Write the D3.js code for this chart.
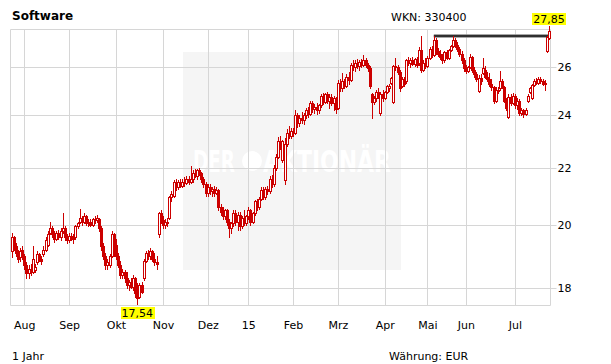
<!DOCTYPE html>
<html><head><meta charset="utf-8">
<script src="https://cdn.jsdelivr.net/npm/d3@7"></script>
<style>body{margin:0;background:#fff}svg{display:block}text{font-family:"DejaVu Sans",Verdana,sans-serif}</style>
</head><body><svg id="c" width="611" height="364"></svg>
<script>
const open=[19.15,19.6,19.3,19.1,18.95,19.2,19.0,18.7,18.45,18.6,18.5,18.55,18.8,19.05,18.9,19.05,19.2,19.35,19.75,19.9,19.7,19.55,19.75,19.6,19.8,19.9,19.6,19.5,19.65,19.6,19.6,19.95,20.1,20.25,20.1,20.3,20.05,20.1,20.0,20.2,20.15,20.2,19.9,19.3,19.0,18.7,18.7,19.0,19.7,19.35,19.0,18.7,18.4,18.5,18.3,18.1,18.2,18.05,18.3,17.85,17.75,18.1,18.3,18.85,19.1,19.0,19.15,18.9,18.8,19.7,20.4,20.15,20.0,20.1,20.25,20.95,21.0,21.5,21.3,21.5,21.35,21.5,21.45,21.6,21.5,21.6,21.8,21.7,21.9,21.8,21.6,21.4,21.1,21.3,21.15,21.25,21.1,21.2,20.6,20.45,20.3,20.5,20.1,19.9,20.05,20.4,20.1,20.35,19.95,20.25,20.05,20.3,20.5,20.1,20.4,20.8,20.6,20.9,21.2,20.95,21.25,21.15,21.6,21.4,22.0,22.4,23.0,22.3,21.55,22.9,23.3,23.2,23.4,23.3,24.0,23.7,23.9,23.8,24.0,24.2,24.05,24.5,24.25,24.35,24.2,24.4,24.8,24.55,24.85,24.6,24.75,24.5,24.7,24.3,25.35,25.1,25.4,25.2,25.6,25.45,26.1,26.0,26.2,26.05,26.25,26.1,26.3,26.1,25.95,24.85,24.55,24.7,24.95,24.1,24.85,24.7,24.95,25.1,25.35,24.55,26.05,26.0,25.8,25.2,25.5,25.4,26.3,26.2,26.3,26.15,26.35,26.2,26.75,25.9,26.2,26.05,26.4,26.8,26.55,27.2,26.7,26.6,26.45,26.3,26.65,26.4,26.75,26.95,27.2,27.0,26.8,26.6,26.3,25.95,25.85,26.0,26.45,25.9,25.7,25.0,25.55,25.75,25.9,25.6,25.5,25.3,25.15,24.6,25.05,25.1,25.4,25.15,24.6,23.95,24.75,24.5,24.8,24.4,24.6,24.1,24.2,24.05,24.6,24.95,24.7,25.25,25.4,25.35,25.5,25.4,25.3,26.7,27.3];
const high=[19.75,19.65,19.4,19.2,19.25,19.3,19.05,18.8,18.7,18.75,19.3,18.75,19.15,19.1,19.0,19.3,19.6,19.8,20.1,19.95,19.8,19.8,19.85,19.9,20.4,19.95,19.7,19.75,19.75,19.7,20.0,20.1,20.55,20.3,20.4,20.35,20.2,20.2,20.25,20.3,20.35,20.25,19.95,19.4,19.1,18.9,19.05,19.8,19.75,19.55,19.1,18.85,18.6,18.55,18.5,18.25,18.3,18.4,18.35,18.15,18.15,18.2,18.9,19.15,19.2,19.25,19.2,19.1,19.0,20.45,20.5,20.3,20.2,20.25,21.0,21.15,21.55,21.6,21.55,21.6,21.6,21.65,21.7,21.7,22.05,21.9,21.95,21.95,22.0,21.85,21.65,21.5,21.4,21.4,21.3,21.35,21.3,21.25,20.7,20.6,20.55,20.55,20.2,20.1,20.5,20.5,20.45,20.45,20.3,20.5,20.35,20.6,20.55,20.45,20.85,20.9,20.95,21.3,21.3,21.3,21.35,21.7,21.75,22.1,22.5,23.15,23.2,23.05,23.1,23.45,23.6,23.5,23.5,24.2,24.1,24.0,24.15,24.1,24.3,24.35,24.6,24.6,24.45,24.5,24.45,24.85,24.9,24.9,24.95,24.85,24.85,24.8,24.75,25.45,25.5,25.75,25.5,25.7,25.8,26.2,26.3,26.3,26.35,26.3,26.35,26.55,26.4,26.2,26.05,24.9,24.8,25.05,25.1,24.95,25.05,25.0,25.25,25.3,25.6,26.1,26.4,26.1,25.9,25.6,25.6,26.35,26.45,26.4,26.45,26.4,26.45,26.9,27.4,26.3,26.4,26.5,26.9,26.95,27.4,27.3,26.85,26.75,26.6,26.7,26.75,26.8,27.0,27.4,27.3,27.1,26.9,26.7,26.4,26.1,26.05,26.6,26.5,26.0,25.8,25.65,25.7,26.4,26.05,25.8,25.75,25.5,25.2,25.15,25.15,25.85,25.5,25.2,24.7,24.85,24.85,24.9,24.85,24.7,24.65,24.3,24.25,24.3,24.85,25.15,25.3,25.5,25.55,25.6,25.6,25.5,25.45,27.4,27.85];
const low=[18.95,19.2,19.0,18.8,18.85,18.9,18.6,18.3,18.3,18.4,18.45,18.5,18.75,18.85,18.75,19.0,19.15,19.3,19.7,19.6,19.45,19.5,19.55,19.5,19.75,19.5,19.4,19.45,19.5,19.4,19.55,19.9,20.05,20.0,20.05,20.0,19.95,19.95,19.95,20.05,20.1,19.8,19.2,18.9,18.6,18.6,18.65,18.95,19.0,18.9,18.65,18.3,18.3,18.2,18.0,17.95,18.0,17.95,17.75,17.54,17.7,17.85,18.25,18.8,18.9,18.9,18.85,18.7,18.6,19.6,20.05,19.9,19.9,19.95,20.2,20.8,20.95,21.2,21.25,21.3,21.3,21.35,21.4,21.4,21.45,21.5,21.65,21.6,21.75,21.5,21.3,21.0,21.0,21.05,21.0,21.0,21.05,20.5,20.35,20.2,20.2,20.0,19.6,19.75,19.95,20.0,19.85,19.85,19.9,20.0,20.0,20.2,20.0,20.05,20.35,20.5,20.55,20.85,20.9,20.9,21.05,21.1,21.3,21.35,21.9,22.35,22.7,22.2,21.4,22.8,23.1,23.1,23.2,23.25,23.55,23.6,23.7,23.65,23.9,23.95,24.0,24.15,24.1,24.05,24.1,24.35,24.45,24.5,24.5,24.3,24.4,24.2,24.1,24.25,25.0,25.0,25.1,25.15,25.3,25.4,25.9,25.85,25.95,25.9,26.0,26.05,26.0,25.85,25.1,23.9,24.45,24.6,24.7,24.0,24.6,24.65,24.9,25.0,25.3,24.5,25.9,25.7,25.0,25.15,25.2,25.35,26.1,26.0,26.1,26.05,26.0,26.1,25.8,25.85,25.95,26.0,26.35,26.45,26.5,26.6,26.5,26.35,26.2,26.25,26.35,26.35,26.7,26.9,26.9,26.7,26.5,26.2,25.85,25.75,25.8,25.95,25.8,25.6,25.4,24.95,25.3,25.7,25.55,25.4,25.2,25.05,24.5,24.55,24.9,25.05,25.1,24.55,24.2,23.9,24.4,24.45,24.3,24.25,24.0,24.0,23.95,24.0,24.55,24.9,24.65,25.2,25.3,25.3,25.35,25.25,25.05,26.65,27.25];
const close=[19.6,19.3,19.1,18.9,19.15,19.0,18.7,18.45,18.6,18.5,18.9,18.65,19.05,18.9,18.85,19.2,19.5,19.7,19.9,19.7,19.55,19.75,19.6,19.8,19.9,19.6,19.5,19.65,19.6,19.55,19.95,20.05,20.25,20.1,20.3,20.05,20.1,20.0,20.2,20.15,20.25,19.9,19.3,19.0,18.7,18.8,19.0,19.7,19.1,19.0,18.7,18.4,18.5,18.3,18.1,18.2,18.05,18.3,17.85,17.7,18.1,17.9,18.85,19.1,19.0,19.15,18.9,18.8,18.75,20.4,20.15,20.0,20.1,20.05,20.95,21.05,21.5,21.3,21.5,21.35,21.5,21.45,21.6,21.5,21.6,21.8,21.7,21.9,21.8,21.6,21.4,21.1,21.3,21.15,21.25,21.1,21.2,20.6,20.45,20.3,20.5,20.1,19.9,20.05,20.4,20.1,20.35,19.95,20.25,20.05,20.3,20.5,20.1,20.4,20.8,20.6,20.9,21.2,21.0,21.25,21.15,21.6,21.4,22.0,22.4,23.0,22.8,23.0,22.9,23.3,23.2,23.4,23.3,24.0,23.7,23.9,23.8,24.0,24.2,24.05,24.5,24.25,24.35,24.2,24.4,24.8,24.55,24.85,24.6,24.75,24.5,24.7,24.25,25.35,25.1,25.4,25.2,25.6,25.45,26.1,26.0,26.2,26.05,26.25,26.1,26.3,26.1,25.95,25.2,24.55,24.7,24.95,24.8,24.85,24.7,24.95,25.2,25.2,25.55,26.05,26.0,25.8,25.1,25.5,25.3,26.3,26.2,26.3,26.15,26.35,26.1,26.75,25.9,26.2,26.05,26.4,26.8,26.55,27.2,26.7,26.6,26.45,26.3,26.65,26.4,26.75,26.95,27.2,27.0,26.8,26.6,26.3,25.95,25.85,26.0,26.45,25.9,25.7,25.5,25.55,25.4,25.95,25.6,25.5,25.3,25.15,24.6,25.05,25.0,25.4,25.15,24.6,24.3,24.75,24.5,24.8,24.4,24.6,24.1,24.2,24.05,24.2,24.8,25.1,25.25,25.4,25.35,25.5,25.4,25.3,25.35,27.35,27.6];
const monthIdx=[6,27,49,71,92,111,132,153,175,195,213,236];
const monthLabels=["Aug","Sep","Okt","Nov","Dez","15","Feb","Mrz","Apr","Mai","Jun","Jul"];
const yTicks=[18,20,22,24,26];
const refLevel=27.4, refStartIdx=198;

const W=611,H=364, L=10.5, R=550.5, T=29.5, B=305.5;
const red="#cc0000", grid="#d6d6d6";
const svg=d3.select("#c");
const x=d3.scaleLinear().domain([0,open.length-1]).range([11.5,549]);
const y=d3.scaleLog().domain([18,26]).range([288.3,67.3]);
const px=v=>Math.round(v)+0.5;

// watermark
svg.append("rect").attr("x",183).attr("y",52).attr("width",218).attr("height",218).attr("fill","#f5f5f5");
const wm=svg.append("g").attr("fill","#ffffff").attr("font-weight","bold").attr("font-size",30);
wm.append("text").attr("x",193).attr("y",172).attr("textLength",42).attr("lengthAdjust","spacingAndGlyphs").text("DER");
wm.append("circle").attr("cx",252).attr("cy",161).attr("r",10).attr("fill","#ffffff");
wm.append("text").attr("x",263).attr("y",172).attr("textLength",128).attr("lengthAdjust","spacingAndGlyphs").text("AKTIONÄR");

// grid
const g=svg.append("g");
g.selectAll(".vg").data(monthIdx).join("line").attr("x1",d=>px(x(d))).attr("x2",d=>px(x(d))).attr("y1",T).attr("y2",B).attr("stroke",grid);
g.selectAll(".hg").data(yTicks).join("line").attr("x1",L).attr("x2",R).attr("y1",d=>px(y(d))).attr("y2",d=>px(y(d))).attr("stroke",grid);
// frame
g.append("path").attr("d",`M${L},${T}H${R}V${B}H${L}Z`).attr("fill","none").attr("stroke",grid);

// y axis
const ya=svg.append("g").attr("transform",`translate(${R},0)`).call(d3.axisRight(y).tickValues(yTicks).tickSize(6).tickPadding(1).tickFormat(d3.format("d")));
ya.select(".domain").remove();
ya.selectAll(".tick line").attr("stroke",grid).attr("transform","translate(0,0.5)").attr("y1",0);
ya.selectAll(".tick").attr("transform",d=>`translate(0,${Math.round(y(d))})`);
ya.selectAll("text").attr("font-size",11).attr("fill","#000").attr("font-family","DejaVu Sans").attr("dy","0.85em").attr("y",-5);

// x axis
const xa=svg.append("g").attr("transform",`translate(0,${B})`).call(d3.axisBottom(x).tickValues(monthIdx).tickSize(0).tickPadding(16).tickFormat((d,i)=>monthLabels[i]));
xa.select(".domain").remove();
xa.selectAll("text").attr("font-size",11).attr("fill","#000").attr("font-family","DejaVu Sans");

// reference line
svg.append("line").attr("x1",x(refStartIdx)).attr("x2",R).attr("y1",Math.round(y(refLevel))).attr("y2",Math.round(y(refLevel))).attr("stroke","#8a8a8a").attr("stroke-width",3.5);
svg.append("line").attr("x1",x(refStartIdx)).attr("x2",R).attr("y1",Math.round(y(refLevel))).attr("y2",Math.round(y(refLevel))).attr("stroke","#111").attr("stroke-width",1.6);

// candles
const idx=d3.range(open.length);
const cg=svg.append("g");
cg.selectAll(".w").data(idx).join("line")
  .attr("x1",i=>Math.round(x(i))+0.5).attr("x2",i=>Math.round(x(i))+0.5)
  .attr("y1",i=>Math.round(y(high[i]))).attr("y2",i=>Math.round(y(low[i]))+1)
  .attr("stroke",red).attr("stroke-width",1);
cg.selectAll(".b").data(idx).join("rect")
  .attr("x",i=>close[i]>=open[i]?Math.round(x(i))-0.5:Math.round(x(i))-1)
  .attr("width",i=>close[i]>=open[i]?2:3)
  .attr("y",i=>{const t=Math.round(y(Math.max(open[i],close[i])));return close[i]>=open[i]?t+0.5:t;})
  .attr("height",i=>{const t=Math.round(y(Math.max(open[i],close[i]))),b=Math.round(y(Math.min(open[i],close[i])));return close[i]>=open[i]?Math.max(b-t,1):Math.max(b-t+1,1);})
  .attr("fill",i=>close[i]>=open[i]?"#fff":red)
  .attr("stroke",i=>close[i]>=open[i]?red:"none").attr("stroke-width",1);

// min / max labels
const fmt=v=>d3.format(".2f")(v).replace(".",",");
const iMax=d3.maxIndex(high), iMin=d3.minIndex(low);
function badge(i,v,ty){
  const t=svg.append("text").attr("x",x(i)).attr("y",ty).attr("text-anchor","middle").attr("font-size",11).attr("fill","#000").text(fmt(v));
  const bb=t.node().getBBox();
  svg.insert("rect",()=>t.node()).attr("x",Math.round(bb.x)-1).attr("y",Math.round(ty-10)).attr("width",Math.round(bb.width)+2).attr("height",12).attr("fill","#ffff00");
}
badge(iMax,high[iMax],23);
badge(iMin,low[iMin],317);

// titles
svg.append("text").attr("x",12).attr("y",20).attr("font-size",12).attr("font-weight","bold").attr("fill","#000").text("Software");
svg.append("text").attr("x",391).attr("y",21).attr("font-size",11).attr("fill","#000").text("WKN: 330400");
svg.append("text").attr("x",12).attr("y",360).attr("font-size",11).attr("fill","#000").text("1 Jahr");
svg.append("text").attr("x",389).attr("y",360).attr("font-size",11).attr("fill","#000").text("Währung: EUR");
</script></body></html>
